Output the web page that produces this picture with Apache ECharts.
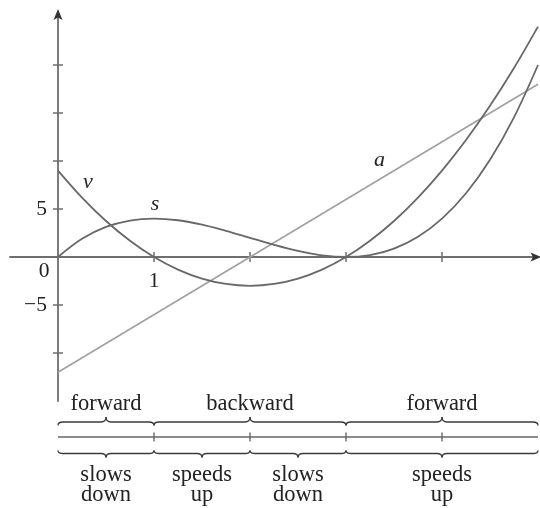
<!DOCTYPE html>
<html><head><meta charset="utf-8">
<script src="https://cdn.jsdelivr.net/npm/echarts@6/dist/echarts.min.js"></script>
<style>html,body{margin:0;padding:0;background:#fff}#c{width:540px;height:508px}</style>
</head><body><div id="c"></div>
<script>
// ---- data ----
const tValues = [0,0.25,0.5,0.75,1,1.25,1.5,1.75,2,2.25,2.5,2.75,3,3.25,3.5,3.75,4,4.25,4.5,4.75,5];
const sValues = [0,1.89,3.13,3.80,4,3.83,3.38,2.73,2,1.27,0.63,0.17,0,0.20,0.88,2.11,4,6.64,10.13,14.55,20];
const vValues = [9,6.19,3.75,1.69,0,-1.31,-2.25,-2.81,-3,-2.81,-2.25,-1.31,0,1.69,3.75,6.19,9,12.19,15.75,19.69,24];
const aT = [0,5];
const aValues = [-12,18];
const yTicks = [-10,-5,5,10,15,20];
const yLabels = [-5,5];
const xTicks = [1,2,3,4];
const xLabels = [1];
const dirLabels = ['forward','backward','forward'];
const dirSpans = [[0,1],[1,3],[3,5]];
const speedLabels = ['slows\ndown','speeds\nup','slows\ndown','speeds\nup'];
const speedSpans = [[0,1],[1,2],[2,3],[3,5]];
const timelineTicks = [1,2,3,4];

const FONT = '"Liberation Serif","Times New Roman",serif';
const AXC = '#6e6e6e';
const chart = echarts.init(document.getElementById('c'), null, {renderer:'canvas'});

function xAx(pos, main){
  return {type:'value', min:-0.5, max:5, position:pos,
    axisLine:{show:main, onZero:true, onZeroAxisIndex:0, lineStyle:{color:AXC, width:1.8}},
    axisTick:{show:true, customValues:xTicks, length:5, lineStyle:{color:AXC, width:1.5}},
    axisLabel:{show:false},
    splitLine:{show:false}};
}
function yAx(pos, main){
  return {type:'value', min:-15, max:25.25, position:pos,
    axisLine:{show:main, onZero:true, onZeroAxisIndex:0, lineStyle:{color:AXC, width:1.8}},
    axisTick:{show:true, customValues:yTicks, length:5, lineStyle:{color:AXC, width:1.5}},
    axisLabel:{show:false},
    splitLine:{show:false}};
}
function lbl(name, coord){
  return {symbol:'circle', symbolSize:0, data:[{coord:coord}],
    label:{show:true, position:'inside', formatter:name, fontFamily:FONT, fontStyle:'italic', fontSize:22, color:'#222'}};
}

chart.setOption({
  animation:false,
  backgroundColor:'#fff',
  grid:{left:10, top:14.6, width:528, height:386.4, outerBoundsMode:'none', containLabel:false},
  xAxis:[xAx('bottom', true), xAx('top', false)],
  yAxis:[yAx('left', true), yAx('right', false)],
  series:[
    {type:'line', name:'a', data:aT.map((t,i)=>[t,aValues[i]]), showSymbol:false, silent:true,
      lineStyle:{color:'#a3a3a3', width:1.8}, markPoint:lbl('a',[3.35,10.1])},
    {type:'line', name:'s', data:tValues.map((t,i)=>[t,sValues[i]]), smooth:0.35, showSymbol:false, silent:true,
      lineStyle:{color:'#686868', width:1.8}, markPoint:lbl('s',[1.01,5.5])},
    {type:'line', name:'v', data:tValues.map((t,i)=>[t,vValues[i]]), smooth:0.35, showSymbol:false, silent:true,
      lineStyle:{color:'#686868', width:1.8}, markPoint:lbl('v',[0.31,7.8])}
  ]
});

function P(t, y){ return chart.convertToPixel({xAxisIndex:0, yAxisIndex:0}, [t, y]); }
function px(t){ return P(t,0)[0]; }
const origin = P(0,0);
const g = [];
const txt = (x, y, text, size, extra) => g.push({type:'text', x:x, y:y, z:10,
  style:Object.assign({text:text, font:size + 'px ' + FONT, fill:'#222', align:'center', verticalAlign:'middle'}, extra || {})});

// axis arrowheads (dark)
const yTop = P(0, 25.25), xEnd = P(5, 0);
g.push({type:'polygon', z:10, shape:{points:[[yTop[0], yTop[1]-5.5],[yTop[0]-4.5, yTop[1]+5.5],[yTop[0], yTop[1]+3],[yTop[0]+4.5, yTop[1]+5.5]]}, style:{fill:'#333'}});
g.push({type:'polygon', z:10, shape:{points:[[xEnd[0]+3, xEnd[1]],[xEnd[0]-7.5, xEnd[1]-4.5],[xEnd[0]-5, xEnd[1]],[xEnd[0]-7.5, xEnd[1]+4.5]]}, style:{fill:'#333'}});

// tick labels
yLabels.forEach(v => {
  const p = P(0, v);
  txt(p[0]-11, p[1], v < 0 ? '\u2212' + (-v) : String(v), 21.5, {align:'right'});
});
xLabels.forEach(t => {
  const p = P(t, 0);
  txt(p[0], p[1]+24, String(t), 21.5);
});
txt(origin[0]-14, origin[1]+14, '0', 21.5);

// ---- sign diagram below the chart ----
const BR = {stroke:'#3a3a3a', lineWidth:1.3, fill:null};
function brace(x1, x2, yb, e, tip){
  const m = (x1+x2)/2, r = 5;
  g.push({type:'bezierCurve', shape:{x1:x1, y1:yb+e, cpx1:x1, cpy1:yb, x2:x1+r, y2:yb}, style:BR});
  g.push({type:'line', shape:{x1:x1+r, y1:yb, x2:m-r, y2:yb}, style:BR});
  g.push({type:'bezierCurve', shape:{x1:m-r, y1:yb, cpx1:m, cpy1:yb, x2:m, y2:yb+tip}, style:BR});
  g.push({type:'bezierCurve', shape:{x1:m, y1:yb+tip, cpx1:m, cpy1:yb, x2:m+r, y2:yb}, style:BR});
  g.push({type:'line', shape:{x1:m+r, y1:yb, x2:x2-r, y2:yb}, style:BR});
  g.push({type:'bezierCurve', shape:{x1:x2-r, y1:yb, cpx1:x2, cpy1:yb, x2:x2, y2:yb+e}, style:BR});
}
const TOPB = 422, LINE = 437, BOTB = 453.5;
g.push({type:'line', shape:{x1:px(0), y1:LINE, x2:px(5), y2:LINE}, style:{stroke:'#666', lineWidth:1.5}});
timelineTicks.forEach(t => g.push({type:'line', shape:{x1:px(t), y1:LINE-4.5, x2:px(t), y2:LINE+4.5}, style:{stroke:'#666', lineWidth:1.4}}));
dirSpans.forEach((s,i) => {
  brace(px(s[0]), px(s[1]), TOPB, 3.5, -5);
  txt((px(s[0])+px(s[1]))/2, 404, dirLabels[i], 22.5);
});
speedSpans.forEach((s,i) => {
  brace(px(s[0]), px(s[1]), BOTB, -3, 4);
  txt((px(s[0])+px(s[1]))/2, 485.5, speedLabels[i], 22.5, {lineHeight:20});
});
chart.setOption({graphic:g});
</script></body></html>
